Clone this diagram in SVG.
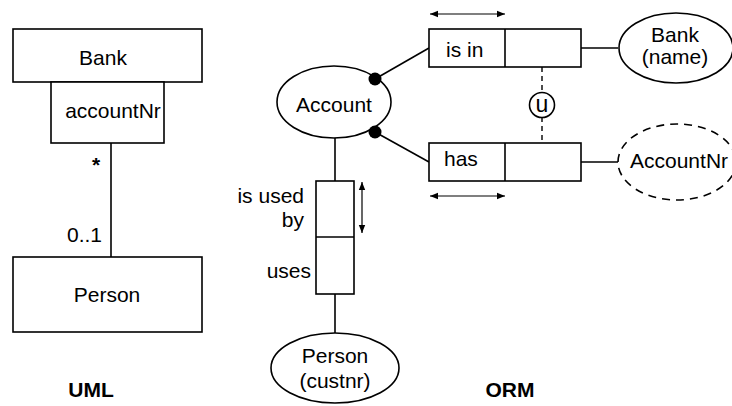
<svg xmlns="http://www.w3.org/2000/svg" width="732" height="406" viewBox="0 0 732 406">
  <style>
    .box { fill: #fff; stroke: #000; stroke-width: 1.6; }
    .ln { fill: none; stroke: #000; stroke-width: 1.6; }
    .dash { fill: none; stroke: #000; stroke-width: 1.4; stroke-dasharray: 5 4; }
    .arr { fill: none; stroke: #000; stroke-width: 1.2; marker-start: url(#ah); marker-end: url(#ah); }
    text { font-family: "Liberation Sans", Arial, sans-serif; font-size: 21px; fill: #000; }
    .c { text-anchor: middle; }
    .e { text-anchor: end; }
    .b { font-weight: bold; }
  </style>
  <defs>
    <marker id="ah" viewBox="0 0 10 10" refX="10" refY="5" markerWidth="8" markerHeight="8" markerUnits="userSpaceOnUse" orient="auto-start-reverse">
      <path d="M0,1 L10,5 L0,9 Z" fill="#000"/>
    </marker>
  </defs>

  <!-- connectors -->
  <g id="connectors">
    <line class="ln" x1="111" y1="143" x2="111" y2="257"/>
    <line class="ln" x1="375" y1="79" x2="429" y2="48"/>
    <line class="ln" x1="375" y1="132" x2="429" y2="162"/>
    <line class="ln" x1="581" y1="48" x2="618" y2="48"/>
    <line class="ln" x1="581" y1="162" x2="618" y2="162"/>
    <line class="ln" x1="335" y1="138" x2="335" y2="181"/>
    <line class="ln" x1="335" y1="294" x2="335" y2="333"/>
    <line class="dash" x1="542" y1="67" x2="542" y2="93"/>
    <line class="dash" x1="542" y1="117" x2="542" y2="143"/>
    <line class="arr" x1="430" y1="14" x2="505" y2="14"/>
    <line class="arr" x1="430" y1="196" x2="505" y2="196"/>
    <line class="arr" x1="362" y1="182" x2="362" y2="233"/>
  </g>

  <!-- UML -->
  <g id="uml-bank">
    <rect class="box" x="13" y="29" width="189" height="53"/>
    <text class="c" x="103" y="65">Bank</text>
  </g>
  <g id="uml-accountNr">
    <rect class="box" x="51" y="82" width="113" height="61"/>
    <text class="c" x="113" y="118">accountNr</text>
  </g>
  <g id="uml-mult">
    <text class="c b" x="96" y="172">*</text>
    <text class="e" x="102" y="242">0..1</text>
  </g>
  <g id="uml-person">
    <rect class="box" x="13" y="257" width="189" height="75"/>
    <text class="c" x="107" y="302">Person</text>
  </g>
  <text class="c b" x="91" y="397">UML</text>

  <!-- ORM -->
  <g id="account">
    <ellipse class="box" cx="334" cy="102" rx="57" ry="36"/>
    <text class="c" x="334" y="112">Account</text>
  </g>
  <g id="mandatory">
    <circle cx="375" cy="79" r="6.5" fill="#000"/>
    <circle cx="375" cy="132" r="6.5" fill="#000"/>
  </g>
  <g id="fact-isin">
    <rect class="box" x="429" y="29" width="152" height="38"/>
    <line class="ln" x1="505" y1="29" x2="505" y2="67"/>
    <text x="446" y="57">is in</text>
  </g>
  <g id="fact-has">
    <rect class="box" x="429" y="143" width="152" height="38"/>
    <line class="ln" x1="505" y1="143" x2="505" y2="181"/>
    <text x="444" y="166">has</text>
  </g>
  <g id="bank-name">
    <ellipse class="box" cx="676" cy="48" rx="57" ry="35"/>
    <text class="c" x="675" y="42">Bank</text>
    <text class="c" x="675" y="64">(name)</text>
  </g>
  <g id="accountnr">
    <ellipse cx="677" cy="162" rx="59" ry="38" fill="#fff" stroke="#000" stroke-width="1.6" stroke-dasharray="8 6"/>
    <text x="630" y="168">AccountNr</text>
  </g>
  <g id="uniqueness">
    <circle class="box" cx="542" cy="105" r="12.5"/>
    <text class="c" x="542" y="112" style="font-size:23px">u</text>
  </g>
  <g id="fact-uses">
    <rect class="box" x="316" y="181" width="38" height="113"/>
    <line class="ln" x1="316" y1="237" x2="354" y2="237"/>
    <text class="e" x="304" y="203">is used</text>
    <text class="e" x="304" y="227">by</text>
    <text class="e" x="311" y="278">uses</text>
  </g>
  <g id="person">
    <ellipse class="box" cx="335" cy="368" rx="64" ry="35"/>
    <text class="c" x="335" y="363">Person</text>
    <text class="c" x="335" y="388">(custnr)</text>
  </g>
  <text class="c b" x="510" y="397">ORM</text>
</svg>
